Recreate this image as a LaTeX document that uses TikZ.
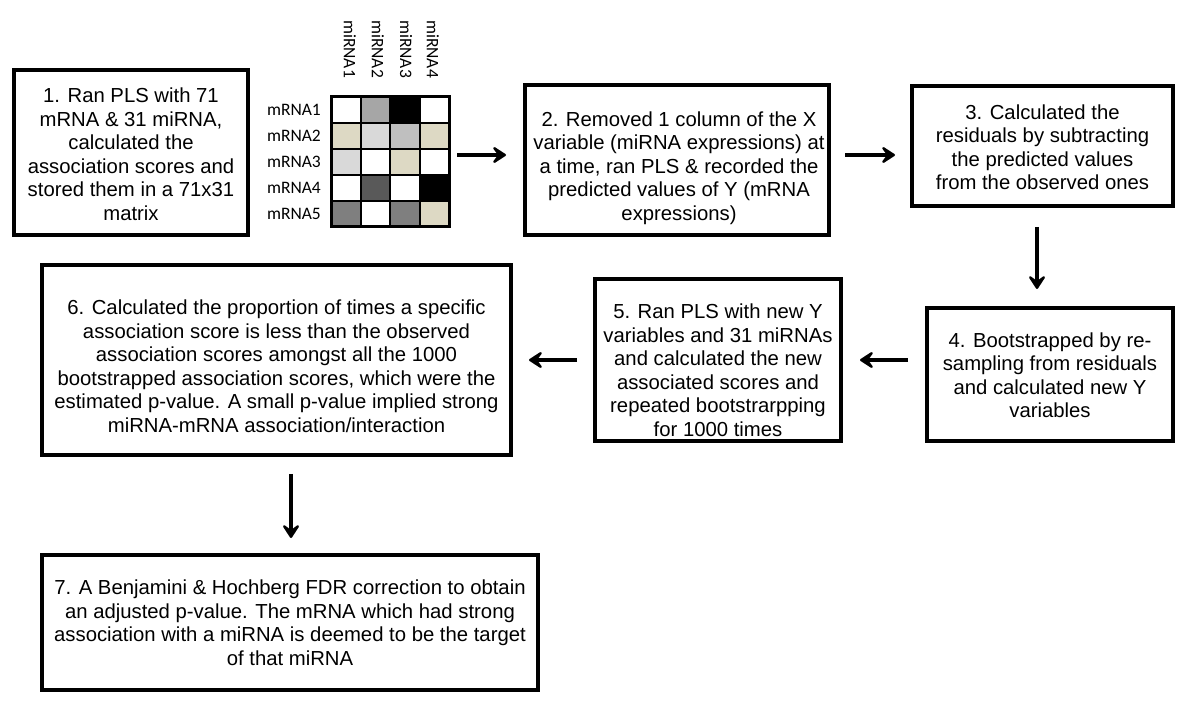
\documentclass[tikz,border=0pt]{standalone}
\usepackage{fontspec}
\setmainfont{Liberation Sans}
\newfontfamily\carlito{Carlito}
\usetikzlibrary{arrows.meta}
\definecolor{beige}{HTML}{DDD9C4}
\definecolor{ga}{HTML}{A6A6A6}
\definecolor{lg}{HTML}{D9D9D9}
\definecolor{mg}{HTML}{BFBFBF}
\definecolor{dg}{HTML}{595959}
\definecolor{gb}{HTML}{7F7F7F}
\begin{document}
\begin{tikzpicture}[x=1pt,y=-1pt,
  stepbox/.style={draw, line width=4pt, inner sep=0pt},
  txt/.style={align=center, inner sep=0pt, font=\fontsize{20.3}{23.5}\selectfont},
  arr/.style={line width=4pt, -{Stealth[length=17pt,width=22pt,inset=8pt,round]}},
  lbl/.style={font=\carlito\fontsize{17.5}{20}\selectfont, inner sep=0pt}]
\useasboundingbox (0,0) rectangle (1200,708);

% matrix cells
\foreach \row [count=\r from 0] in {{white,ga,black,white},{beige,lg,mg,beige},{lg,white,beige,white},{white,dg,white,black},{gb,white,gb,beige}} {
  \foreach \col [count=\c from 0] in \row {
    \filldraw[fill=\col, draw=black, line width=2pt] (331+\c*29.5, 97+\r*26) rectangle ++(29.5,26);
  }
}
\node[draw, line width=3pt, minimum width=118pt, minimum height=130pt, inner sep=0pt] (mat) at (390,162) {};

\node[lbl, anchor=east] (r1) at (321,110) {mRNA1};
\node[lbl, anchor=east] (r2) at (321,136) {mRNA2};
\node[lbl, anchor=east] (r3) at (321,162) {mRNA3};
\node[lbl, anchor=east] (r4) at (321,188) {mRNA4};
\node[lbl, anchor=east] (r5) at (321,214) {mRNA5};
\node[lbl, rotate=-90, anchor=west] (c1) at (350,20) {miRNA1};
\node[lbl, rotate=-90, anchor=west] (c2) at (378,20) {miRNA2};
\node[lbl, rotate=-90, anchor=west] (c3) at (406,20) {miRNA3};
\node[lbl, rotate=-90, anchor=west] (c4) at (433,20) {miRNA4};

% boxes
\node[stepbox, minimum width=234pt, minimum height=165pt] (b1) at (131,152.5) {};
\node[txt] (t1) at (131,154)
  {1. Ran PLS with 71\\mRNA \& 31 miRNA,\\calculated the\\association scores and\\stored them in a 71x31\\matrix};
\node[stepbox, minimum width=304pt, minimum height=150pt] (b2) at (677,160) {};
\node[txt] (t2) at (679,168)
  {2. Removed 1 column of the X\\variable (miRNA expressions) at\\a time, ran PLS \& recorded the\\predicted values of Y (mRNA\\expressions)};
\node[stepbox, minimum width=261pt, minimum height=120pt] (b3) at (1042.5,146) {};
\node[txt] (t3) at (1042.5,147)
  {3. Calculated the\\residuals by subtracting\\the predicted values\\from the observed ones};
\node[stepbox, minimum width=246pt, minimum height=133pt] (b4) at (1050,374.5) {};
\node[txt] (t4) at (1050,375)
  {4. Bootstrapped by re-\\sampling from residuals\\and calculated new Y\\variables};
\node[stepbox, minimum width=246pt, minimum height=162pt] (b5) at (718,360) {};
\node[txt] (t5) at (718,370)
  {5. Ran PLS with new Y\\variables and 31 miRNAs\\and calculated the new\\associated scores and\\repeated bootstrarpping\\for 1000 times};
\node[stepbox, minimum width=469pt, minimum height=190pt] (b6) at (276.5,360) {};
\node[txt] (t6) at (276.5,366)
  {6. Calculated the proportion of times a specific\\association score is less than the observed\\association scores amongst all the 1000\\bootstrapped association scores, which were the\\estimated p-value. A small p-value implied strong\\miRNA-mRNA association/interaction};
\node[stepbox, minimum width=496pt, minimum height=135pt] (b7) at (290,622.5) {};
\node[txt] (t7) at (290,622.5)
  {7. A Benjamini \& Hochberg FDR correction to obtain\\an adjusted p-value. The mRNA which had strong\\association with a miRNA is deemed to be the target\\of that miRNA};

% arrows
\coordinate (ytop) at (0,155);
\coordinate (ymid) at (0,360);
\coordinate (x34) at (1037,0);
\coordinate (x67) at (291,0);
\draw[arr, shorten <=6.5pt, shorten >=17pt] (mat.east |- ytop) -- (b2.west |- ytop);
\draw[arr, shorten <=14pt, shorten >=15pt] (b2.east |- ytop) -- (b3.west |- ytop);
\draw[arr, shorten <=19pt, shorten >=17pt] (b3.south -| x34) -- (b4.north -| x34);
\draw[arr, shorten <=17pt, shorten >=17pt] (b4.west |- ymid) -- (b5.east |- ymid);
\draw[arr, shorten <=16pt, shorten >=16pt] (b5.west |- ymid) -- (b6.east |- ymid);
\draw[arr, shorten <=17pt, shorten >=15pt] (b6.south -| x67) -- (b7.north -| x67);
\end{tikzpicture}
\end{document}
